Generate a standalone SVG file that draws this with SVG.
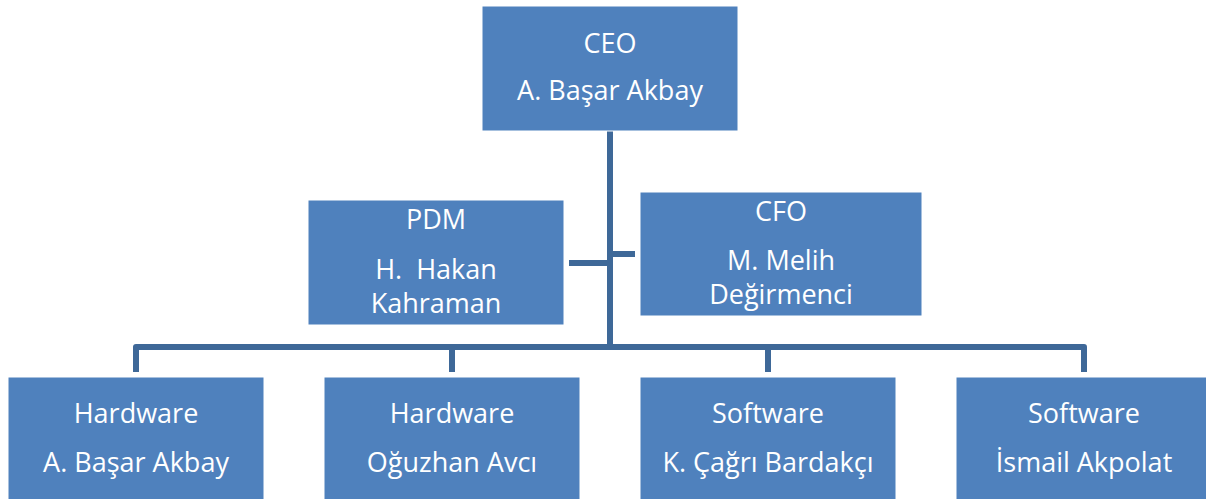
<svg xmlns="http://www.w3.org/2000/svg" width="1206" height="499" viewBox="0 0 1206 499">
<style>
.box{fill:#4F81BD;stroke:#FFFFFF;stroke-width:1}
.t{font-family:"Open Sans","Noto Sans","Liberation Sans",sans-serif;font-size:27px;fill:#FFFFFF;text-anchor:middle}
.c{fill:none;stroke:#3E6898;stroke-width:6;stroke-linejoin:round}
</style>
<rect width="1206" height="499" fill="#FFFFFF"/>
<g id="connectors">
<path class="c" d="M610 131 V347"/>
<path class="c" d="M569 263 H610"/>
<path class="c" d="M610 254 H635"/>
<path class="c" d="M136 372 V347 H1084 V372"/>
<path class="c" d="M452 347 V372"/>
<path class="c" d="M768 347 V372"/>
</g>
<g id="ceo">
<rect class="box" x="482" y="6" width="256" height="125"/>
<text class="t" x="610" y="53">CEO</text>
<text class="t" x="610" y="100">A. Başar Akbay</text>
</g>
<g id="pdm">
<rect class="box" x="308" y="200" width="256" height="125"/>
<text class="t" x="436" y="229">PDM</text>
<text class="t" x="436" y="279" xml:space="preserve">H.  Hakan</text>
<text class="t" x="436" y="313">Kahraman</text>
</g>
<g id="cfo">
<rect class="box" x="640" y="192" width="282" height="124"/>
<text class="t" x="781" y="221">CFO</text>
<text class="t" x="781" y="270">M. Melih</text>
<text class="t" x="781" y="304">Değirmenci</text>
</g>
<g id="hw1">
<rect class="box" x="8" y="377" width="256" height="130"/>
<text class="t" x="136" y="423">Hardware</text>
<text class="t" x="136" y="472">A. Başar Akbay</text>
</g>
<g id="hw2">
<rect class="box" x="324" y="377" width="256" height="130"/>
<text class="t" x="452" y="423">Hardware</text>
<text class="t" x="452" y="472">Oğuzhan Avcı</text>
</g>
<g id="sw1">
<rect class="box" x="640" y="377" width="256" height="130"/>
<text class="t" x="768" y="423">Software</text>
<text class="t" x="768" y="472">K. Çağrı Bardakçı</text>
</g>
<g id="sw2">
<rect class="box" x="956" y="377" width="256" height="130"/>
<text class="t" x="1084" y="423">Software</text>
<text class="t" x="1084" y="472">İsmail Akpolat</text>
</g>
</svg>
